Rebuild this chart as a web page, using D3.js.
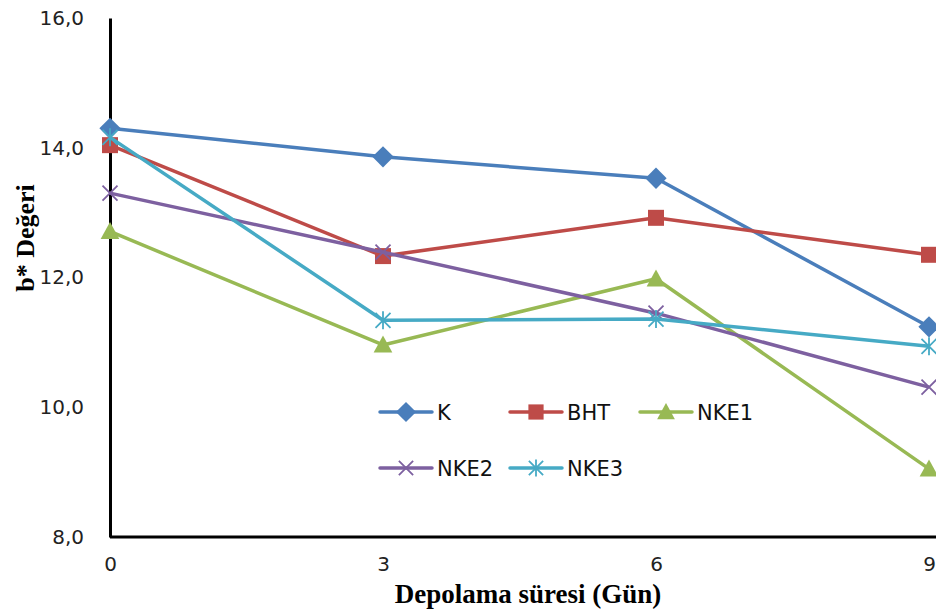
<!DOCTYPE html>
<html>
<head>
<meta charset="utf-8">
<script src="https://cdn.jsdelivr.net/npm/d3@7"></script>
<style>
  body { margin: 0; background: #fff; }
  .tick text { font-family: "DejaVu Sans", sans-serif; }
</style>
</head>
<body>
<div id="chart"></div>
<script>
var days = [0, 3, 6, 9];
var yTicks = [8, 10, 12, 14, 16];

var seriesK = [14.30, 13.86, 13.53, 11.24];
var seriesBHT = [14.04, 12.33, 12.92, 12.35];
var seriesNKE1 = [12.71, 10.96, 11.98, 9.05];
var seriesNKE2 = [13.30, 12.39, 11.45, 10.31];
var seriesNKE3 = [14.16, 11.34, 11.36, 10.94];

var names = ["K", "BHT", "NKE1", "NKE2", "NKE3"];
var colors = ["#4a7ebb", "#be4b48", "#98b954", "#7d60a0", "#46aac5"];
var shapes = ["diamond", "square", "triangle", "cross", "star"];

var series = [seriesK, seriesBHT, seriesNKE1, seriesNKE2, seriesNKE3].map(function(v, i) {
  return {name: names[i], color: colors[i], shape: shapes[i], values: v};
});

var width = 936, height = 614;
var margin = {top: 18, right: 7, bottom: 77, left: 110};

var svg = d3.select("#chart").append("svg")
  .attr("width", width)
  .attr("height", height);

var x = d3.scaleLinear()
  .domain([0, 9])
  .range([margin.left, width - margin.right]);

var y = d3.scaleLinear()
  .domain([8, 16])
  .range([height - margin.bottom, margin.top]);

// y axis
var yAxis = svg.append("g")
  .attr("transform", "translate(" + margin.left + ",0)")
  .call(d3.axisLeft(y).tickValues(yTicks).tickSize(0).tickPadding(26)
    .tickFormat(function(d) { return d3.format(".1f")(d).replace(".", ","); }));
yAxis.select(".domain").attr("stroke", "#000").attr("stroke-width", 3);
yAxis.selectAll("text").attr("font-size", 20).attr("fill", "#222");

// x axis
var xAxis = svg.append("g")
  .attr("transform", "translate(0," + (height - margin.bottom) + ")")
  .call(d3.axisBottom(x).tickValues(days).tickSize(0).tickPadding(20));
xAxis.select(".domain").attr("stroke", "#000").attr("stroke-width", 3)
  .attr("d", "M" + margin.left + ",0H" + width);
xAxis.selectAll("text").attr("font-size", 20).attr("fill", "#222");

// titles
svg.append("text")
  .attr("transform", "translate(34,238) rotate(-90)")
  .attr("text-anchor", "middle")
  .attr("font-family", "Liberation Serif, serif")
  .attr("font-weight", "bold")
  .attr("font-size", 26)
  .text("b* Değeri");

svg.append("text")
  .attr("x", 528)
  .attr("y", 603)
  .attr("text-anchor", "middle")
  .attr("font-family", "Liberation Serif, serif")
  .attr("font-weight", "bold")
  .attr("font-size", 27)
  .text("Depolama süresi (Gün)");

function drawMarker(g, shape, color, size) {
  if (shape == "diamond") {
    g.append("path").attr("d", d3.symbol(d3.symbolDiamond2, size * size * 1.0)())
      .attr("fill", color);
  } else if (shape == "square") {
    g.append("rect").attr("x", -size / 2).attr("y", -size / 2)
      .attr("width", size).attr("height", size).attr("fill", color);
  } else if (shape == "triangle") {
    g.append("path").attr("d", "M0," + (-size * 0.55) + "L" + (size * 0.55) + "," + (size * 0.45) + "L" + (-size * 0.55) + "," + (size * 0.45) + "Z")
      .attr("fill", color);
  } else if (shape == "cross") {
    var s = size * 0.5;
    g.append("path").attr("d", "M" + (-s) + "," + (-s) + "L" + s + "," + s + "M" + (-s) + "," + s + "L" + s + "," + (-s))
      .attr("stroke", color).attr("stroke-width", 1.8).attr("fill", "none");
  } else if (shape == "star") {
    var r = size * 0.5;
    g.append("path").attr("d", "M" + (-r) + "," + (-r) + "L" + r + "," + r + "M" + (-r) + "," + r + "L" + r + "," + (-r) + "M0," + (-r * 1.2) + "L0," + (r * 1.2))
      .attr("stroke", color).attr("stroke-width", 1.8).attr("fill", "none");
  }
}

var line = d3.line()
  .x(function(d, i) { return x(days[i]); })
  .y(function(d) { return y(d); });

var markerSize = {diamond: 17, square: 16, triangle: 17, cross: 15, star: 15};

series.forEach(function(s) {
  var g = svg.append("g");
  g.append("path")
    .datum(s.values)
    .attr("d", line)
    .attr("fill", "none")
    .attr("stroke", s.color)
    .attr("stroke-width", 3.5)
    .attr("stroke-linejoin", "round");
  g.selectAll(".pt")
    .data(s.values)
    .enter().append("g")
    .attr("transform", function(d, i) { return "translate(" + x(days[i]) + "," + y(d) + ")"; })
    .each(function() { drawMarker(d3.select(this), s.shape, s.color, markerSize[s.shape]); });
});

// legend
var legendPos = [[380, 412], [510, 412], [640, 412], [380, 468], [510, 468]];
series.forEach(function(s, i) {
  var lg = svg.append("g").attr("transform", "translate(" + legendPos[i][0] + "," + legendPos[i][1] + ")");
  lg.append("line").attr("x1", 0).attr("x2", 52).attr("y1", 0).attr("y2", 0)
    .attr("stroke", s.color).attr("stroke-width", 3.5).attr("stroke-linecap", "round");
  var mg = lg.append("g").attr("transform", "translate(26,0)");
  drawMarker(mg, s.shape, s.color, markerSize[s.shape] * 0.95);
  lg.append("text").attr("x", 57).attr("y", 8)
    .attr("font-family", "DejaVu Sans, sans-serif")
    .attr("font-size", 21)
    .attr("fill", "#111")
    .text(s.name);
});
</script>
</body>
</html>
